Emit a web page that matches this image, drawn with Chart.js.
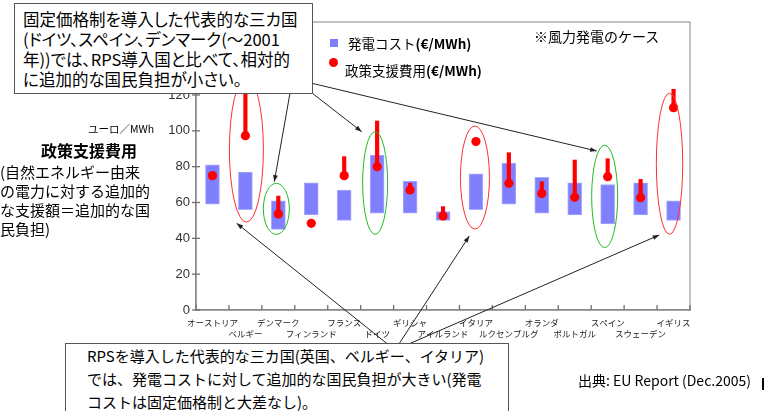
<!DOCTYPE html>
<html>
<head>
<meta charset="utf-8">
<script src="https://cdn.jsdelivr.net/npm/chart.js@4.4.0/dist/chart.umd.min.js"></script>
<style>
  body { margin: 0; background: #fff; font-family: "Noto Sans CJK JP", sans-serif; color: #000; }
  #wrap { position: relative; width: 769px; height: 411px; overflow: hidden; }
  #wrap canvas { position: absolute; left: 0; top: 0; }
  .abs { position: absolute; white-space: nowrap; }
  .callout { position: absolute; background: #fff; border: 1.5px solid #555; white-space: nowrap; box-sizing: border-box; }
  .tx { display: block; height: 20px; line-height: 20px; }
  .tb { display: block; height: 23px; line-height: 23px; }
</style>
</head>
<body>
<div id="wrap">
  <canvas id="chart" width="769" height="411"></canvas>

  <!-- legend -->
  <div class="abs" style="left:330px;top:39px;width:8px;height:8px;background:#8080ff;"></div>
  <div class="abs" style="left:348px;top:33px;font-size:13.5px;line-height:20px;">発電コスト<b>(€/MWh)</b></div>
  <div class="abs" style="left:329px;top:58px;width:9px;height:9px;border-radius:50%;background:#ff0000;"></div>
  <div class="abs" style="left:345px;top:60px;font-size:13.5px;line-height:20px;">政策支援費用<b>(€/MWh)</b></div>
  <div class="abs" style="left:534px;top:26px;font-size:14px;line-height:20px;">※風力発電のケース</div>

  <!-- left axis caption -->
  <div class="abs" style="left:88px;top:122px;font-size:10.5px;line-height:14px;">ユーロ／MWh</div>
  <div class="abs" style="left:41px;top:139px;font-size:16px;line-height:22px;font-weight:bold;">政策支援費用</div>
  <div class="abs" style="left:0px;top:162px;width:150px;overflow:hidden;font-size:15px;line-height:19px;">(自然エネルギー由来<br>の電力に対する追加的<br>な支援額＝追加的な国<br>民負担)</div>

  <!-- callouts -->
  <div class="callout" style="left:14px;top:3px;width:299px;height:91px;padding:4.5px 0 0 8px;font-size:16.5px;font-feature-settings:'palt';">
    <span class="tx">固定価格制を導入した代表的な三カ国</span><span class="tx">(ドイツ、スペイン、デンマーク(～2001</span><span class="tx">年))では、RPS導入国と比べて、相対的</span><span class="tx">に追加的な国民負担が小さい。</span>
  </div>
  <div class="callout" style="left:65px;top:343px;width:444px;height:90px;padding:0 0 0 21px;font-size:15px;">
    <span class="tb">RPSを導入した代表的な三カ国(英国、ベルギー、イタリア)</span><span class="tb">では、発電コストに対して追加的な国民負担が大きい(発電</span><span class="tb">コストは固定価格制と大差なし)。</span>
  </div>

  <div class="abs" style="left:578px;top:371px;font-size:14px;line-height:18px;">出典: EU Report (Dec.2005)</div>
  <div class="abs" style="left:762px;top:378px;width:1.5px;height:12px;background:#000;"></div>
</div>

<script>
// countries (x axis)
var countries = ['オーストリア', 'ベルギー', 'デンマーク', 'フィンランド', 'フランス', 'ドイツ', 'ギリシャ',
                 'アイルランド', 'イタリア', 'ルクセンブルグ', 'オランダ', 'ポルトガル', 'スペイン', 'スウェーデン', 'イギリス'];
// generation cost range (€/MWh)
var costLow  = [59, 56, 45, 53, 50, 54, 54, 50, 56, 59, 54, 53, 48, 53, 50];
var costHigh = [81, 77, 61, 71, 67, 86.5, 72, 55, 76, 82, 74, 71, 70, 71, 61];
// policy support cost: average (dot) and upper end (red line)
var supportAvg = [75, 97.3, 53.6, 48.4, 75, 80, 67, 52.5, 94, 70.7, 65, 62.9, 74.4, 62.7, 112.9];
var supportTop = [null, 128, 63.6, null, 85.6, 105.5, 70.7, 57.7, null, 87.8, 71.6, 83.7, 84.4, 72.9, 123.2];
// y axis ticks
var yTicks = [0, 20, 40, 60, 80, 100, 120];

var costBars = [];
var supportLines = [];
for (var i = 0; i < countries.length; i++) {
    costBars.push([costLow[i], costHigh[i]]);
    supportLines.push(supportTop[i] == null ? null : [supportAvg[i], supportTop[i]]);
}

// annotation rings (category index, value span) and arrows (pixels)
var rings = [
    {index: 1,  top: 130, bottom: 49, rx: 17, dx: 1,  color: '#ff3030'},
    {index: 2,  top: 70.7, bottom: 42.2, rx: 13, dx: -2, color: '#22bb22'},
    {index: 5,  top: 99.5, bottom: 42.2, rx: 12.5, dx: -2, color: '#22bb22'},
    {index: 8,  top: 102.7, bottom: 45.2, rx: 14.5, dx: -1, color: '#ff3030'},
    {index: 12, top: 92, bottom: 34.8, rx: 13, dx: -3, color: '#22bb22'},
    {index: 14, top: 121, bottom: 42.2, rx: 13.2, dx: -4, color: '#ff3030'}
];
var arrows = [
    [290, 93, 274.3, 181.7],
    [312, 93, 361.7, 131.7],
    [312, 83.3, 596.7, 151],
    [395, 350, 236.7, 223.3],
    [395, 350, 469.3, 236],
    [395, 350, 659.3, 235]
];

var decorations = {
    id: 'decorations',
    beforeDatasetsDraw: function(chart) {
        var ctx = chart.ctx, a = chart.chartArea;
        var ys = chart.scales.y;
        ctx.save();
        // outer frame
        ctx.strokeStyle = '#9a9a9a';
        ctx.lineWidth = 1.2;
        ctx.strokeRect(a.left, 22, a.right - a.left, a.bottom - 22);
        // y ticks across the axis
        ctx.strokeStyle = '#707070';
        ctx.lineWidth = 1.3;
        ys.ticks.forEach(function(t) {
            var y = ys.getPixelForValue(t.value);
            ctx.beginPath(); ctx.moveTo(a.left - 4, y); ctx.lineTo(a.left + 4, y); ctx.stroke();
        });
        // x ticks between categories, pointing inward
        var n = countries.length;
        for (var k = 0; k <= n; k++) {
            var x = a.left + k * (a.right - a.left) / n;
            ctx.beginPath(); ctx.moveTo(x, a.bottom); ctx.lineTo(x, a.bottom - 5); ctx.stroke();
        }
        ctx.restore();
    },
    afterDatasetsDraw: function(chart) {
        var ctx = chart.ctx;
        var xs = chart.scales.x, ys = chart.scales.y;
        ctx.save();
        ctx.lineWidth = 1;
        rings.forEach(function(r) {
            var cx = xs.getPixelForValue(r.index) + r.dx;
            var yt = ys.getPixelForValue(r.top), yb = ys.getPixelForValue(r.bottom);
            ctx.strokeStyle = r.color;
            ctx.beginPath();
            ctx.ellipse(cx, (yt + yb) / 2, r.rx, (yb - yt) / 2, 0, 0, Math.PI * 2);
            ctx.stroke();
        });
        ctx.strokeStyle = '#222';
        ctx.fillStyle = '#222';
        arrows.forEach(function(ar) {
            var ang = Math.atan2(ar[3] - ar[1], ar[2] - ar[0]);
            ctx.beginPath(); ctx.moveTo(ar[0], ar[1]); ctx.lineTo(ar[2], ar[3]); ctx.stroke();
            ctx.beginPath();
            ctx.moveTo(ar[2], ar[3]);
            ctx.lineTo(ar[2] - 7 * Math.cos(ang - 0.35), ar[3] - 7 * Math.sin(ang - 0.35));
            ctx.lineTo(ar[2] - 7 * Math.cos(ang + 0.35), ar[3] - 7 * Math.sin(ang + 0.35));
            ctx.closePath(); ctx.fill();
        });
        ctx.restore();
    }
};

var ctx = document.getElementById('chart');
var chart = new Chart(ctx, {
    data: {
        labels: countries,
        datasets: [
            {
                type: 'line',
                label: '政策支援費用(€/MWh)',
                data: supportAvg,
                showLine: false,
                pointRadius: 4.6,
                pointBorderWidth: 0,
                pointBackgroundColor: '#ff0000',
                order: 0,
                clip: false
            },
            {
                type: 'bar',
                label: '政策支援費用 上限',
                data: supportLines,
                backgroundColor: '#ff0000',
                barThickness: 3.5,
                grouped: false,
                order: 1,
                clip: false
            },
            {
                type: 'bar',
                label: '発電コスト(€/MWh)',
                data: costBars,
                backgroundColor: '#8080ff',
                borderColor: '#aaaaff',
                borderWidth: 1,
                borderSkipped: false,
                barThickness: 14,
                grouped: false,
                order: 2
            }
        ]
    },
    options: {
        responsive: false,
        animation: false,
        layout: { padding: { left: 156, top: 95, right: 79, bottom: 71 } },
        plugins: { legend: { display: false }, tooltip: { enabled: false } },
        scales: {
            x: {
                grid: { display: false, drawTicks: false },
                border: { display: true, color: '#707070', width: 1.5 },
                ticks: {
                    autoSkip: false,
                    maxRotation: 0,
                    padding: 8,
                    color: '#222',
                    font: { family: '"Noto Sans CJK JP"', size: 8.5 },
                    callback: function(v, i) { return i % 2 ? ['', countries[i]] : countries[i]; }
                },
                afterFit: function(s) { s.height = 30; }
            },
            y: {
                min: 0,
                max: 120,
                afterBuildTicks: function(s) { s.ticks = yTicks.map(function(v) { return {value: v}; }); },
                grid: { display: false, drawTicks: false },
                border: { display: true, color: '#707070', width: 1.5 },
                ticks: {
                    padding: 6,
                    color: '#333',
                    font: { family: '"Liberation Sans", Arial', size: 13 }
                },
                afterFit: function(s) { s.width = 40; }
            }
        }
    },
    plugins: [decorations]
});
</script>
</body>
</html>
